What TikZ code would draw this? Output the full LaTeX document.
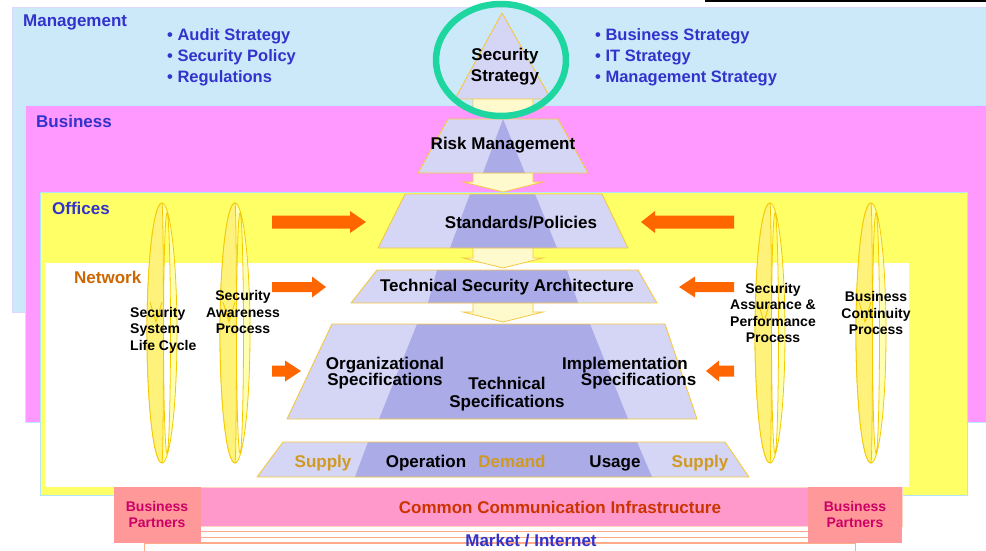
\documentclass[tikz,border=0pt]{standalone}
\usepackage{fontspec}
\setmainfont{Liberation Sans}
\definecolor{mgmtblue}{HTML}{CCE9FA}
\definecolor{busipink}{HTML}{FF99FF}
\definecolor{offyellow}{HTML}{FFFF66}
\definecolor{infrapink}{HTML}{FF99CC}
\definecolor{partnersalmon}{HTML}{FF9999}
\definecolor{stripeedge}{HTML}{FFAA88}
\definecolor{lavlight}{HTML}{D5D5F5}
\definecolor{lavdark}{HTML}{ABABE8}
\definecolor{pyredgecol}{HTML}{F5C842}
\definecolor{pale}{HTML}{FFFACD}
\definecolor{orangearrow}{HTML}{FF6600}
\definecolor{labelblue}{HTML}{3333CC}
\definecolor{netorange}{HTML}{CC6600}
\definecolor{supplygold}{HTML}{D09A20}
\definecolor{infrared}{HTML}{CC3300}
\definecolor{partnermag}{HTML}{CC0066}
\definecolor{circgreen}{HTML}{1ED6A0}
\definecolor{ringpale}{HTML}{FFFFB0}
\definecolor{ringyellow}{HTML}{FFF27A}
\definecolor{ringline}{HTML}{F5C800}
\tikzset{
	lbl/.style = {font = \bfseries\fontsize{17}{20}\selectfont, text = labelblue, inner sep = 0pt},
	bullets/.style = {lbl, font = \bfseries\fontsize{16.5}{21}\selectfont, align = left, anchor = west},
	pyrtext/.style = {font = \bfseries\fontsize{17}{19}\selectfont, inner sep = 0pt, align = center},
	rowtext/.style = {pyrtext, anchor = base},
	ringtext/.style = {font = \bfseries\fontsize{14}{16.5}\selectfont, inner sep = 0pt, align = center},
	partnertext/.style = {font = \bfseries\fontsize{14}{16}\selectfont, text = partnermag, inner sep = 0pt, align = center},
	pyrlight/.style = {fill = lavlight},
	pyrdark/.style = {fill = lavdark},
	pyredge/.style = {draw = pyredgecol, line width = 0.9pt, line join = round},
	downarrow/.style = {fill = pale, draw = pyredgecol, line width = 0.8pt},
	orarrow/.style = {fill = orangearrow},
	ringback/.style = {fill = ringpale, draw = ringline, line width = 0.8pt},
	ringfront/.style = {fill = ringyellow, draw = ringline, line width = 0.8pt},
	stripe/.style = {fill = white, draw = stripeedge, line width = 0.8pt}
}

\begin{document}
\begin{tikzpicture}[x = 1pt, y = -1pt]
	\useasboundingbox (0, 0) rectangle (986, 551);
	% layers
	\fill[black] (705, -1) rectangle (986, 2);
	\filldraw[fill = mgmtblue, draw = blue!15] (12, 7) rectangle (992, 312);
	\filldraw[fill = busipink, draw = cyan!25] (25, 105) rectangle (992, 422);
	\filldraw[fill = offyellow, draw = cyan!30, line width = 1pt] (40, 192) rectangle (967, 495);
	\fill[white] (45, 263) rectangle (909, 487);
	% bottom bands
	\draw[stripe] (144, 543) rectangle (855, 556);
	\draw[stripe] (150, 537) rectangle (818, 542);
	\draw[stripe] (150, 531) rectangle (813, 537);
	\draw[stripe] (150, 525) rectangle (808, 531);
	\filldraw[fill = infrapink, draw = stripeedge!50] (114, 487) rectangle (902, 526);
	\fill[partnersalmon] (114, 487) rectangle (201, 543);
	\fill[partnersalmon] (808, 487) rectangle (902, 543);
	% loops
	\foreach \cx in {162, 235, 770, 871}
	{
		\filldraw[ringback, even odd rule] (\cx, 333) ellipse [x radius = 15, y radius = 130] (\cx + 5, 333) ellipse [x radius = 3.5, y radius = 120];
		\filldraw[ringfront] (\cx, 463) arc[start angle = 90, end angle = 270, x radius = 15, y radius = 130] arc[start angle = 270, end angle = 450, x radius = 1.5, y radius = 130] -- cycle;
		\draw[ringline, line width = 0.8pt] (\cx - 12, 302) -- (\cx - 6, 322) -- (\cx, 302);
	}
	% orange arrows
	\foreach \xa/\xb/\xc/\yc/\bh/\hh in {272/350/366/222/6.5/11, 734/655/641/222/6.5/11, 272/312/326/287/5/10.5, 734/695/679/287/5/10.5, 272/285/301/371/5.5/10.5, 734/719/706/371/5.5/10.5}
		\fill[orarrow] (\xa, \yc - \bh) -- (\xb, \yc - \bh) -- (\xb, \yc - \hh) -- (\xc, \yc) -- (\xb, \yc + \hh) -- (\xb, \yc + \bh) -- (\xa, \yc + \bh) -- cycle;
	% pyramid
	\foreach \ya/\yb/\yc in {95/108/118, 170/182/192, 245/258/268, 300/312/322}
		\filldraw[downarrow] (473, \ya) -- (533, \ya) -- (533, \yb) -- (543, \yb) -- (503, \yc) -- (463, \yb) -- (473, \yb) -- cycle;
	\fill[pyrlight] (502, 13) -- (551, 99) -- (455, 99) -- cycle;
	\draw[pyredge] (502, 13) -- (551, 99) -- (455, 99) -- cycle;
	\foreach \yt/\yb/\lt/\rt/\lb/\rb/\dlt/\drt/\dlb/\drb in {119/173/448/558/418/588/503/503/483/525, 194/248/405/602/378/628/470/535/450/557, 270/303/377/638/351/657/437/567/428/578, 324/419/332/665/287/697/417/590/379/628, 442/477/283/725/257/749/368/637/355/652}
	{
		\fill[pyrlight] (\lt, \yt) -- (\rt, \yt) -- (\rb, \yb) -- (\lb, \yb) -- cycle;
		\fill[pyrdark] (\dlt, \yt) -- (\drt, \yt) -- (\drb, \yb) -- (\dlb, \yb) -- cycle;
		\draw[pyredge] (\lt, \yt) -- (\rt, \yt) -- (\rb, \yb) -- (\lb, \yb) -- cycle;
	}
	\draw[circgreen, line width = 6.5pt] (501, 60) ellipse [x radius = 65, y radius = 56];
	% labels
	\node[lbl, anchor = west] (mgmt) at (23, 22) {Management};
	\node[lbl, anchor = west] (busi) at (36, 121) {Business};
	\node[lbl, anchor = west] (offi) at (52, 208) {Offices};
	\node[lbl, anchor = west, text = netorange] (netw) at (74, 277) {Network};
	\node[bullets] (leftlist) at (167, 57) {\textbullet\ Audit Strategy\\\textbullet\ Security Policy\\\textbullet\ Regulations};
	\node[bullets] (rightlist) at (595, 57) {\textbullet\ Business Strategy\\\textbullet\ IT Strategy\\\textbullet\ Management Strategy};
	\node[pyrtext, font = \bfseries\fontsize{17}{21}\selectfont] (secstrat) at (505, 67) {Security\\Strategy};
	\node[pyrtext] (riskmgmt) at (503, 145) {Risk Management};
	\node[pyrtext] (standards) at (521, 223) {Standards/Policies};
	\node[pyrtext] (techarch) at (507, 287) {Technical Security Architecture};
	\node[pyrtext, font = \bfseries\fontsize{17}{16}\selectfont] (orgspec) at (385, 373) {Organizational\\Specifications};
	\node[pyrtext, font = \bfseries\fontsize{17}{18}\selectfont] (techspec) at (507, 394) {Technical\\Specifications};
	\node[pyrtext, font = \bfseries\fontsize{17}{16}\selectfont] (implspec) at (625, 373) {Implementation\\\hspace*{1.6em}Specifications};
	\node[rowtext, text = supplygold] (supplyl) at (323, 467) {Supply};
	\node[rowtext] (operation) at (426, 467) {Operation};
	\node[rowtext, text = supplygold] (demand) at (512, 467) {Demand};
	\node[rowtext] (usage) at (615, 467) {Usage};
	\node[rowtext, text = supplygold] (supplyr) at (700, 467) {Supply};
	\node[ringtext, align = left, anchor = west] (lifecycle) at (130, 330) {Security\\System\\Life Cycle};
	\node[ringtext] (awareness) at (243, 312) {Security\\Awareness\\Process};
	\node[ringtext] (assurance) at (773, 313) {Security\\Assurance \&\\Performance\\Process};
	\node[ringtext] (continuity) at (876, 313) {Business\\Continuity\\Process};
	\node[lbl, text = infrared] (infra) at (560, 507) {Common Communication Infrastructure};
	\node[partnertext] (partnersl) at (157, 514) {Business\\Partners};
	\node[partnertext] (partnersr) at (855, 514) {Business\\Partners};
	\node[lbl] (market) at (531, 541) {Market / Internet};
\end{tikzpicture}
\end{document}
